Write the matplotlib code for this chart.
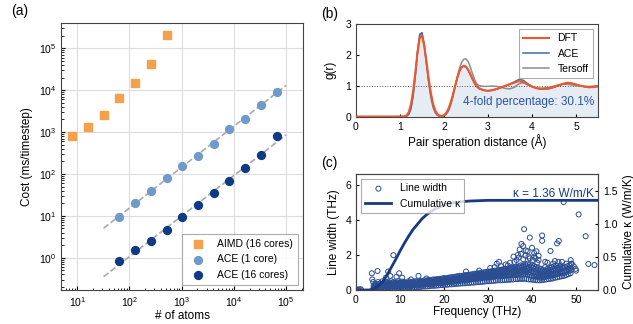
import numpy as np
import matplotlib
matplotlib.use("Agg")
import matplotlib.pyplot as plt
from matplotlib.ticker import LogLocator, NullFormatter

plt.rcParams['font.family'] = ['Liberation Sans', 'DejaVu Sans']
plt.rcParams['mathtext.default'] = 'regular'
plt.rcParams['font.size'] = 8
plt.rcParams['axes.edgecolor'] = '#444444'
plt.rcParams['xtick.direction'] = 'in'
plt.rcParams['ytick.direction'] = 'in'

# ---------------- (a) cost vs number of atoms ----------------
aimd_atoms = [8, 16, 32, 64, 128, 256, 512]
aimd_cost = [800, 1300, 2500, 6500, 15000, 42000, 210000]

ace_atoms = [64, 128, 256, 512, 1024, 2048, 4096, 8192, 16384, 32768, 65536]
ace1_cost = [9.5, 20, 40, 80, 155, 270, 520, 1180, 2100, 4500, 9000]
ace16_cost = [0.85, 1.5, 2.5, 4.7, 9.3, 18, 36, 66, 140, 280, 800]

# ---------------- (b) radial distribution function ----------------
r_vals = [0, 1.0, 1.1, 1.15, 1.2, 1.25, 1.3, 1.35, 1.4, 1.45, 1.5, 1.55, 1.6, 1.65,
          1.7, 1.75, 1.8, 1.85, 1.9, 1.95, 2.0, 2.05, 2.1, 2.15, 2.2, 2.25, 2.3,
          2.35, 2.4, 2.45, 2.5, 2.55, 2.6, 2.65, 2.7, 2.75, 2.8, 2.9, 3.0, 3.1,
          3.2, 3.3, 3.4, 3.5, 3.6, 3.7, 3.8, 3.9, 4.0, 4.1, 4.2, 4.3, 4.4, 4.5,
          4.6, 4.7, 4.8, 4.9, 5.0, 5.1, 5.2, 5.3, 5.4, 5.5]
g_dft = [0, 0, 0.01, 0.04, 0.15, 0.4, 0.85, 1.45, 2.1, 2.55, 2.62, 2.3, 1.8, 1.25,
         0.78, 0.42, 0.2, 0.08, 0.03, 0.02, 0.05, 0.12, 0.25, 0.45, 0.7, 0.98, 1.25,
         1.47, 1.6, 1.65, 1.62, 1.52, 1.38, 1.22, 1.08, 0.98, 0.92, 0.86, 0.84, 0.86,
         0.9, 0.95, 1.0, 1.05, 1.1, 1.15, 1.12, 1.04, 0.97, 0.92, 0.9, 0.9, 0.92, 0.96,
         1.01, 1.06, 1.1, 1.08, 1.04, 1.0, 0.97, 0.95, 0.96, 0.98]
g_ace = [0, 0, 0.0, 0.02, 0.08, 0.28, 0.7, 1.35, 2.1, 2.65, 2.72, 2.35, 1.78, 1.2,
         0.72, 0.38, 0.17, 0.06, 0.02, 0.01, 0.04, 0.1, 0.22, 0.42, 0.68, 0.97, 1.25,
         1.47, 1.6, 1.63, 1.6, 1.5, 1.35, 1.2, 1.06, 0.96, 0.9, 0.85, 0.83, 0.85,
         0.89, 0.94, 1.0, 1.06, 1.13, 1.2, 1.18, 1.07, 0.98, 0.92, 0.89, 0.89, 0.91, 0.95,
         1.0, 1.05, 1.09, 1.08, 1.04, 1.0, 0.97, 0.96, 0.96, 0.98]
g_tersoff = [0, 0, 0.0, 0.02, 0.07, 0.25, 0.68, 1.35, 2.15, 2.68, 2.7, 2.3, 1.7, 1.1,
             0.62, 0.3, 0.12, 0.04, 0.01, 0.0, 0.02, 0.07, 0.18, 0.36, 0.62, 0.95, 1.28,
             1.56, 1.76, 1.86, 1.87, 1.78, 1.6, 1.38, 1.18, 1.05, 1.0, 0.98, 0.98, 0.99,
             0.98, 0.95, 0.91, 0.9, 0.95, 1.06, 1.1, 1.05, 0.98, 0.93, 0.92, 0.93, 0.95, 0.99,
             1.03, 1.05, 1.05, 1.03, 1.01, 0.99, 0.98, 0.98, 0.99, 1.0]

# ---------------- (c) line width and cumulative kappa ----------------
# band of line widths, one row per frequency: (frequency, widths...)
band_rows = [
    (4.0, 0.12, 0.22), (4.5, 0.08, 0.2, 0.35), (5.0, 0.12, 0.25, 0.45),
    (5.5, 0.1, 0.22, 0.38), (6.0, 0.15, 0.28, 0.5), (6.5, 0.12, 0.25, 0.4),
    (7.0, 0.15, 0.3, 0.45), (7.5, 0.18, 0.27, 0.42), (8.0, 0.15, 0.3, 0.5),
    (8.5, 0.2, 0.32, 0.45), (9.0, 0.18, 0.28, 0.4), (9.5, 0.2, 0.33, 0.5),
    (10.0, 0.2, 0.3, 0.42), (10.5, 0.22, 0.35, 0.48), (11.0, 0.2, 0.3, 0.45),
    (11.5, 0.22, 0.33, 0.42), (12.0, 0.25, 0.35, 0.5), (12.5, 0.22, 0.32, 0.45),
    (13.0, 0.25, 0.36, 0.48), (13.5, 0.27, 0.38, 0.5), (14.0, 0.25, 0.35, 0.47),
    (14.5, 0.28, 0.4, 0.52), (15.0, 0.3, 0.4, 0.5), (15.5, 0.3, 0.42, 0.55),
    (16.0, 0.32, 0.43, 0.53), (16.5, 0.33, 0.45, 0.58), (17.0, 0.35, 0.45, 0.56),
    (17.5, 0.35, 0.47, 0.6), (18.0, 0.37, 0.48, 0.6), (18.5, 0.38, 0.5, 0.62),
    (19.0, 0.4, 0.5, 0.63), (19.5, 0.4, 0.52, 0.65), (20.0, 0.42, 0.55, 0.68),
    (20.5, 0.43, 0.55, 0.66), (21.0, 0.45, 0.57, 0.7), (21.5, 0.45, 0.58, 0.72),
    (22.0, 0.48, 0.6, 0.73), (22.5, 0.5, 0.62, 0.75), (23.0, 0.5, 0.63, 0.78),
    (23.5, 0.52, 0.65, 0.8), (24.0, 0.55, 0.67, 0.8), (24.5, 0.55, 0.68, 0.83),
    (25.0, 0.57, 0.7, 0.85, 1.05), (25.5, 0.58, 0.72, 0.86), (26.0, 0.6, 0.73, 0.88),
    (26.5, 0.62, 0.75, 0.9), (27.0, 0.63, 0.77, 0.92), (27.5, 0.65, 0.8, 0.95),
    (28.0, 0.66, 0.8, 0.95, 1.1), (28.5, 0.68, 0.82, 0.98), (29.0, 0.7, 0.84, 1.0),
    (29.5, 0.7, 0.85, 1.02), (30.0, 0.72, 0.87, 1.05), (30.5, 0.72, 0.88, 1.05, 1.25),
    (31.0, 0.75, 0.9, 1.08), (31.5, 0.75, 0.92, 1.1, 1.3), (32.0, 0.78, 0.93, 1.1, 1.5),
    (32.5, 0.78, 0.95, 1.15, 1.6), (33.0, 0.8, 0.97, 1.15, 1.35), (33.5, 0.8, 0.98, 1.18),
    (34.0, 0.82, 1.0, 1.2, 1.45), (34.5, 0.82, 1.0, 1.2, 1.4), (35.0, 0.85, 1.05, 1.25, 1.55),
    (35.5, 0.85, 1.05, 1.28), (36.0, 0.88, 1.08, 1.3, 1.6), (36.5, 0.85, 1.1, 1.3, 1.7),
    (37.0, 0.9, 1.1, 1.35, 1.85), (37.5, 0.88, 1.12, 1.4, 2.05),
    (38.0, 0.9, 1.15, 1.4, 1.75, 2.5), (38.5, 0.9, 1.15, 1.45, 1.95),
    (39.0, 0.92, 1.18, 1.5, 2.2), (39.5, 0.85, 1.15, 1.45, 1.8), (40.0, 0.8, 1.1, 1.4, 2.4),
    (40.5, 0.78, 1.05, 1.35, 2.1), (41.0, 0.75, 1.0, 1.3, 2.2), (41.5, 0.72, 0.95, 1.25, 1.7),
    (42.0, 0.7, 0.9, 1.2), (42.5, 0.72, 0.92, 1.15), (43.0, 0.75, 0.95, 1.3),
    (43.5, 0.78, 0.98, 1.2), (44.0, 0.8, 1.0, 1.25), (44.5, 0.82, 1.05, 1.3),
    (45.0, 0.85, 1.1, 1.35), (45.5, 0.9, 1.12, 1.4), (46.0, 0.92, 1.15, 1.6),
    (46.5, 0.95, 1.2, 1.4), (47.0, 0.95, 1.25), (47.5, 1.0, 1.3), (48.0, 1.05, 1.35),
    (48.5, 1.1, 1.4), (49.0, 1.15, 1.5),
    # lower part of the band
    (4.25, 0.05, 0.15, 0.3), (4.75, 0.06, 0.18, 0.28), (5.25, 0.08, 0.2, 0.33),
    (5.75, 0.06, 0.17, 0.32), (6.25, 0.08, 0.2, 0.35), (6.75, 0.1, 0.2, 0.36),
    (7.25, 0.08, 0.22, 0.38), (7.75, 0.1, 0.21, 0.35), (8.25, 0.1, 0.24, 0.38),
    (8.75, 0.12, 0.23, 0.4), (9.25, 0.1, 0.24, 0.36), (9.75, 0.12, 0.25, 0.4),
    (10.25, 0.12, 0.25, 0.38), (10.75, 0.13, 0.27, 0.4), (11.25, 0.12, 0.26, 0.4),
    (11.75, 0.14, 0.27, 0.38), (12.25, 0.15, 0.28, 0.42), (12.75, 0.14, 0.27, 0.4),
    (13.25, 0.16, 0.3, 0.42), (13.75, 0.17, 0.3, 0.44), (14.25, 0.16, 0.3, 0.42),
    (14.75, 0.18, 0.33, 0.46), (15.25, 0.2, 0.33, 0.46), (15.75, 0.2, 0.35, 0.48),
    (16.25, 0.21, 0.36, 0.5), (16.75, 0.22, 0.37, 0.5), (17.25, 0.24, 0.38, 0.52),
    (17.75, 0.24, 0.4, 0.53), (18.25, 0.25, 0.4, 0.55), (18.75, 0.26, 0.42, 0.56),
    (19.25, 0.28, 0.43, 0.57), (19.75, 0.28, 0.44, 0.6), (20.25, 0.3, 0.46, 0.6),
    (20.75, 0.3, 0.47, 0.62), (21.25, 0.32, 0.48, 0.64), (21.75, 0.32, 0.5, 0.66),
    (22.25, 0.34, 0.5, 0.67), (22.75, 0.35, 0.52, 0.7), (23.25, 0.36, 0.54, 0.7),
    (23.75, 0.37, 0.55, 0.72), (24.25, 0.38, 0.56, 0.74), (24.75, 0.38, 0.58, 0.76),
    (25.25, 0.4, 0.6, 0.78), (25.75, 0.4, 0.6, 0.8), (26.25, 0.42, 0.62, 0.82),
    (26.75, 0.42, 0.64, 0.84), (27.25, 0.44, 0.65, 0.86), (27.75, 0.45, 0.67, 0.88),
    (28.25, 0.46, 0.68, 0.9), (28.75, 0.47, 0.7, 0.92), (29.25, 0.48, 0.72, 0.94),
    (29.75, 0.5, 0.73, 0.96), (30.25, 0.5, 0.75, 0.98), (30.75, 0.52, 0.76, 1.0),
    (31.25, 0.52, 0.78, 1.02), (31.75, 0.54, 0.8, 1.05), (32.25, 0.55, 0.8, 1.05),
    (32.75, 0.55, 0.82, 1.08), (33.25, 0.56, 0.84, 1.1), (33.75, 0.57, 0.85, 1.12),
    (34.25, 0.58, 0.86, 1.14), (34.75, 0.58, 0.88, 1.15), (35.25, 0.6, 0.9, 1.18),
    (35.75, 0.6, 0.92, 1.2), (36.25, 0.62, 0.95, 1.22), (36.75, 0.62, 0.95, 1.25),
    (37.25, 0.64, 0.98, 1.28), (37.75, 0.62, 1.0, 1.3), (38.25, 0.65, 1.0, 1.32),
    (38.75, 0.62, 1.02, 1.35), (39.25, 0.6, 1.0, 1.32), (39.75, 0.6, 0.98, 1.3),
    (40.25, 0.58, 0.95, 1.25), (40.75, 0.56, 0.9, 1.2), (41.25, 0.55, 0.85, 1.15),
    (41.75, 0.55, 0.82, 1.1), (42.25, 0.56, 0.8, 1.05), (42.75, 0.58, 0.82, 1.05),
    (43.25, 0.6, 0.85, 1.1), (43.75, 0.62, 0.88, 1.12), (44.25, 0.64, 0.9, 1.15),
    (44.75, 0.66, 0.92, 1.18), (45.25, 0.7, 0.95, 1.2), (45.75, 0.72, 0.98, 1.25),
    (46.25, 0.75, 1.0, 1.28), (46.75, 0.78, 1.05, 1.3), (47.25, 0.8, 1.1),
    (47.75, 0.85, 1.15), (48.25, 0.9, 1.2), (48.75, 0.95, 1.25),
]
# isolated points
outlier_freq = [0.2, 0.5, 0.8, 1.1, 3.6, 3.7, 3.9, 4.9, 6.8, 7.3, 7.8, 8.5, 9.2, 9.8,
                10.5, 12.5, 14.2, 16.0, 35.8, 36.8, 37.2, 37.6, 38.2, 38.6, 39.2, 39.5,
                40.2, 40.5, 40.8, 41.2, 41.5, 42.3, 42.3, 43.0, 43.5, 44.2, 44.8, 45.2,
                45.7, 46.1, 46.8, 47.2, 47.8, 48.3, 48.8, 49.0, 49.5, 49.9, 50.0, 50.6,
                52.2, 52.8, 54.2]
outlier_width = [0.02, 0.02, 0.03, 0.04, 0.95, 0.6, 0.45, 1.08, 0.7, 1.05, 0.8, 1.98, 0.75, 0.95,
                 0.7, 0.6, 0.8, 0.65, 1.9, 2.0, 2.3, 2.62, 3.46, 2.25, 1.9, 2.98,
                 1.7, 1.9, 1.8, 1.55, 1.95, 3.1, 2.8, 1.6, 1.55, 2.22, 1.5, 1.65,
                 2.65, 2.79, 1.6, 5.0, 1.5, 1.2, 1.7, 1.48, 1.35, 1.2, 1.1, 4.3,
                 3.06, 1.48, 1.42]

kappa_freq = [0, 3, 4, 5, 6, 7, 8, 9, 10, 11, 12, 13, 14, 15, 16, 17, 18, 19, 20,
              22, 24, 26, 28, 30, 32, 40, 55]
kappa_cum = [0, 0, 0.02, 0.06, 0.12, 0.22, 0.34, 0.46, 0.59, 0.71, 0.82, 0.92, 1.0,
             1.08, 1.14, 1.19, 1.23, 1.26, 1.29, 1.32, 1.34, 1.35, 1.355, 1.36, 1.36,
             1.36, 1.36]

orange = '#f5a04c'
light_blue = '#6e9bcb'
navy = '#0e3a87'
dft_col = '#f2562b'
ace_col = '#3d6cb3'
ters_col = '#8c8c8c'

fig = plt.figure(figsize=(6.33, 3.24), dpi=100)

# ---- panel (a)
ax = fig.add_axes([0.0964, 0.105, 0.3823, 0.824])
ax.set_xscale('log')
ax.set_yscale('log')
ax.grid(True, which='major', color='#dddddd', lw=0.8, zorder=0)
ax.scatter(aimd_atoms, aimd_cost, marker='s', s=30, color=orange, label='AIMD (16 cores)', zorder=3)
ax.scatter(ace_atoms, ace1_cost, marker='o', s=32, color=light_blue, label='ACE (1 core)', zorder=3)
ax.scatter(ace_atoms, ace16_cost, marker='o', s=32, color=navy, label='ACE (16 cores)', zorder=3)

# linear fits in log-log space, shown as dashed guides
fit_x = np.array([32, 1e5])
for cost in [ace1_cost, ace16_cost]:
    p = np.polyfit(np.log10(ace_atoms), np.log10(cost), 1)
    ax.plot(fit_x, 10 ** np.polyval(p, np.log10(fit_x)), '--', color='#aaaaaa', lw=1.2, zorder=2)

ax.set_xlim(4.9, 2.1e5)
ax.set_ylim(0.17, 4e5)
ax.xaxis.set_major_locator(LogLocator(base=10, numticks=10))
ax.yaxis.set_major_locator(LogLocator(base=10, numticks=10))
ax.xaxis.set_minor_locator(LogLocator(base=10, subs=np.arange(2, 10), numticks=20))
ax.yaxis.set_minor_locator(LogLocator(base=10, subs=np.arange(2, 10), numticks=20))
ax.xaxis.set_minor_formatter(NullFormatter())
ax.yaxis.set_minor_formatter(NullFormatter())
ax.tick_params(which='major', length=3, labelsize=7.5)
ax.tick_params(which='minor', length=1.8)
ax.set_xlabel('# of atoms', fontsize=8.5, labelpad=1)
ax.set_ylabel('Cost (ms/timestep)', fontsize=8.5)
leg = ax.legend(loc='lower right', fontsize=7.5, fancybox=False, edgecolor='#999999',
                handletextpad=0.8, borderpad=0.5)
leg.get_frame().set_linewidth(0.8)
fig.text(0.018, 0.955, '(a)', fontsize=10)

# ---- panel (b)
bx = fig.add_axes([0.5624, 0.640, 0.3823, 0.286])
bx.fill_between(r_vals, 0, g_dft, color='#e6ecf4', lw=0, zorder=0)
bx.axhline(1, color='#555555', ls=':', lw=0.7, zorder=1)
bx.plot(r_vals, g_tersoff, color=ters_col, lw=1.1, label='Tersoff', zorder=2)
bx.plot(r_vals, g_ace, color=ace_col, lw=1.1, label='ACE', zorder=3)
bx.plot(r_vals, g_dft, color=dft_col, lw=1.5, label='DFT', zorder=4)
bx.set_xlim(0, 5.5)
bx.set_ylim(0, 3)
bx.set_xticks([0, 1, 2, 3, 4, 5])
bx.set_yticks([0, 1, 2, 3])
bx.tick_params(length=2.5, labelsize=7.5)
bx.set_xlabel('Pair speration distance (Å)', fontsize=8.5, labelpad=2)
bx.set_ylabel('g(r)', fontsize=8.5, labelpad=6)
h, l = bx.get_legend_handles_labels()
leg = bx.legend(h[::-1], l[::-1], loc='upper right', fontsize=7.5, fancybox=False,
                edgecolor='#999999', handlelength=2.5)
leg.get_frame().set_linewidth(0.8)
bx.text(5.42, 0.38, '4-fold percentage: 30.1%', color='#2d53a0', fontsize=8.5, ha='right')
fig.text(0.508, 0.945, '(b)', fontsize=10)

# ---- panel (c)
cx = fig.add_axes([0.5624, 0.105, 0.3823, 0.358])
band_f = [row[0] for row in band_rows for w in row[1:]]
band_w = [w for row in band_rows for w in row[1:]]
lw_freq = band_f + outlier_freq
lw_width = band_w + outlier_width
cx.scatter(lw_freq, lw_width, s=13, facecolors='none', edgecolors='#2b4d92', linewidths=0.7,
           label='Line width', zorder=2)
cx.set_xlim(0, 55)
cx.set_ylim(0, 6.6)
cx.set_yticks([0, 2, 4, 6])
cx.set_xticks([0, 10, 20, 30, 40, 50])
cx.tick_params(length=2.5, labelsize=7.5)
cx.set_xlabel('Frequency (THz)', fontsize=8.5, labelpad=1)
cx.set_ylabel('Line width (THz)', fontsize=8.5)

cx2 = cx.twinx()
cx2.plot(kappa_freq, kappa_cum, color='#173a82', lw=2, label='Cumulative κ')
cx2.set_ylim(0, 1.76)
cx2.set_yticks([0, 0.5, 1.0, 1.5])
cx2.set_yticklabels(['0.0', '0.5', '1.0', '1.5'])
cx2.tick_params(length=2.5, labelsize=7.5)
cx2.set_ylabel('Cumulative κ (W/m/K)', fontsize=8.5)
cx2.text(54, 1.41, 'κ = 1.36 W/m/K', color='#173a82', fontsize=8.5, ha='right')
h1, l1 = cx.get_legend_handles_labels()
h2, l2 = cx2.get_legend_handles_labels()
leg = cx2.legend(h1 + h2, l1 + l2, loc='upper left', fontsize=7.5, fancybox=False,
                 edgecolor='#999999', handlelength=2.5)
leg.get_frame().set_linewidth(0.8)
fig.text(0.508, 0.485, '(c)', fontsize=10)

fig.savefig('out.png', dpi=100)
